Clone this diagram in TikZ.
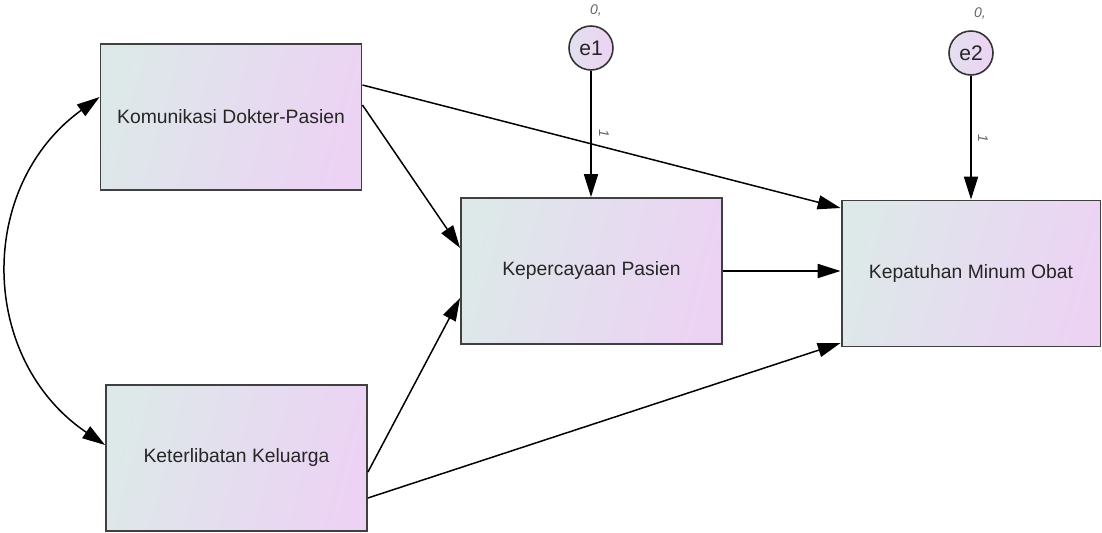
\documentclass[tikz,border=0pt]{standalone}
\usepackage{fontspec}
\setmainfont{Liberation Sans}
\usetikzlibrary{arrows.meta}
\definecolor{boxleft}{RGB}{221,232,233}
\definecolor{boxright}{RGB}{236,211,244}
\tikzset{
  obs/.style={draw=black!75, line width=1.1pt, left color=boxleft, right color=boxright,
    shading angle=75, minimum width=5.22cm, minimum height=2.92cm, text=black!85,
    font=\fontsize{11}{13}\selectfont},
  err/.style={circle, draw=black!80, line width=0.9pt, left color=boxleft!60!boxright,
    right color=boxright, inner sep=0pt, minimum size=0.88cm, text=black!85,
    font=\fontsize{12}{14}\selectfont},
  tiny/.style={inner sep=0pt, text=black!60, font=\fontsize{8}{9}\selectfont\itshape},
  path/.style={line width=0.85pt, -{Triangle[length=13pt,width=8pt]}},
  cov/.style={line width=0.85pt, {Triangle[length=13pt,width=8pt]}-{Triangle[length=13pt,width=8pt]}}
}
\begin{document}
\begin{tikzpicture}[x=0.02cm, y=-0.02cm]
				\useasboundingbox (0,0) rectangle (1102,533);
				
				\node[obs] (kom) at (231,117) {Komunikasi Dokter-Pasien};
				\node[obs] (ket) at (236.5,458) {Keterlibatan Keluarga};
				\node[obs] (kpc) at (591.5,271) {Kepercayaan Pasien};
				\node[obs, minimum width=5.18cm] (kpt) at (971,273.5) {Kepatuhan Minum Obat};
				
				\node[err] (e1) at (591,48) {e1};
				\node[err] (e2) at (971,53) {e2};
				\node[tiny] (v1) at (596,10) {0,};
				\node[tiny] (v2) at (980,13) {0,};
				\node[tiny, rotate=-90] (w1) at (604,133) {1};
				\node[tiny, rotate=-90] (w2) at (983,138) {1};
				
				\draw[path] (e1) -- (e1 |- kpc.north);
				\draw[path] (e2) -- (e2 |- kpt.north);
				\draw[path] (kpc.east) -- (kpc.east -| kpt.west);
				\draw[path] ([yshift=0.24cm]kom.east) -- ([yshift=0.46cm]kpc.west);
				\draw[path] ([yshift=0.64cm]kom.east) -- ([yshift=1.31cm]kpt.west);
				\draw[path] ([yshift=-0.28cm]ket.east) -- ([yshift=-0.54cm]kpc.west);
				\draw[path] ([yshift=-0.8cm]ket.east) -- ([yshift=-1.39cm]kpt.west);
				
				\draw[cov] ([yshift=0.4cm]kom.west) to[bend right=55, looseness=1.12] ([yshift=0.26cm]ket.west);
			\end{tikzpicture}
\end{document}
